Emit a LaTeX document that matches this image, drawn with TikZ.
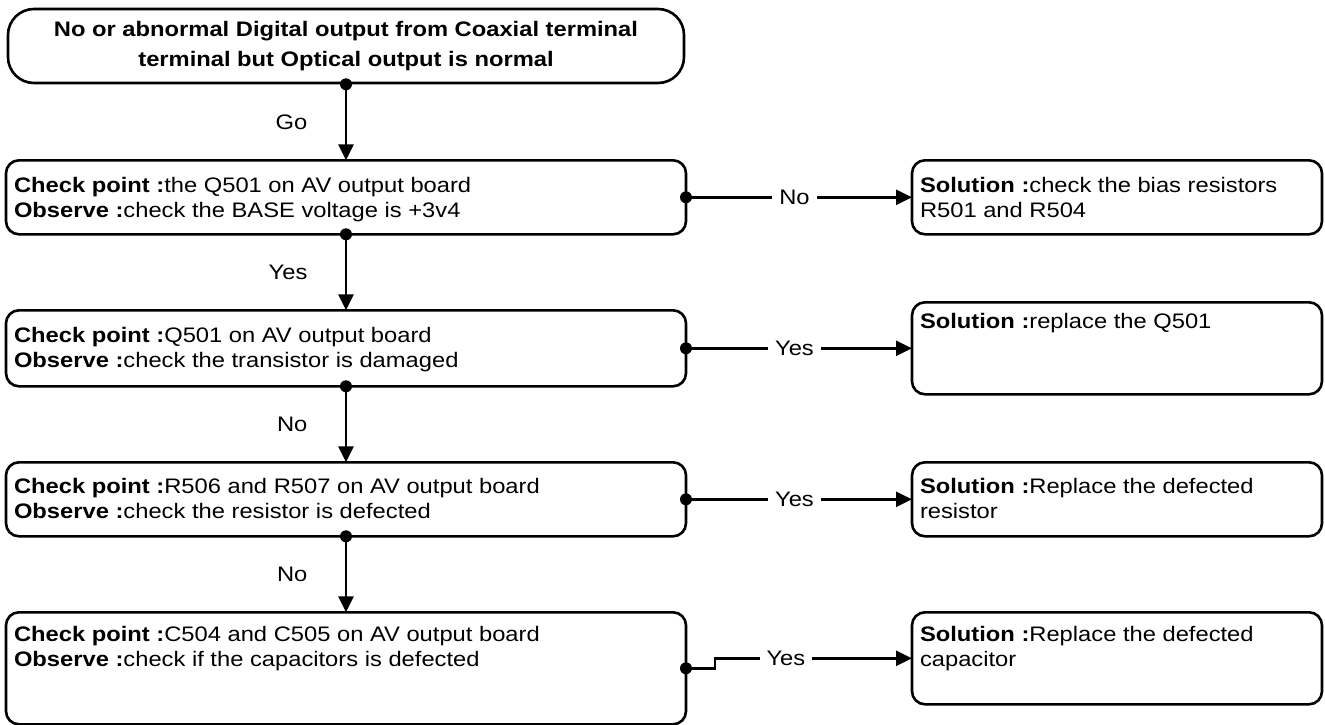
\documentclass[tikz,border=0pt]{standalone}
\usepackage{fontspec}
\setmainfont{Liberation Sans}[FakeStretch=1.13]
\usetikzlibrary{arrows.meta,positioning}

\newcommand{\flowfont}{\fontsize{21pt}{25.5pt}\selectfont}
% #1 = height of first line, #2 = box text height, #3 = text
\newcommand{\chktext}[3][24pt]{\parbox[c][#2][t]{664pt}{\raggedright\rule{0pt}{#1}#3}}
\newcommand{\soltext}[3][24pt]{\parbox[c][#2][t]{394pt}{\raggedright\rule{0pt}{#1}#3}}

\begin{document}
\begin{tikzpicture}[
  x=1pt, y=-1pt,
  node distance=76pt,
  every node/.style={font=\flowfont},
  start/.style={rectangle, rounded corners=26pt, draw, line width=2.6pt,
                minimum width=676pt, minimum height=74pt, align=center,
                font=\flowfont\bfseries},
  box/.style={rectangle, rounded corners=13pt, draw, line width=2.6pt,
              inner xsep=8pt, inner ysep=8pt, outer sep=0pt},
  arr/.style={-{Triangle[length=16pt,width=15pt]}, line width=2.6pt},
  lbl/.style={fill=white, inner xsep=7pt, inner ysep=2pt}
]
\useasboundingbox (0,0) rectangle (1325,725);

\node[start] (start) at (346,46)
  {No or abnormal Digital output from Coaxial terminal\\[4pt]terminal but Optical output is normal};

% check points
\node[box, below=of start] (c1)
  {\chktext{58pt}{\textbf{Check point :}the Q501 on AV output board\\
   \textbf{Observe :}check the BASE voltage is +3v4}};
\node[box, below=of c1] (c2)
  {\chktext{60pt}{\textbf{Check point :}Q501 on AV output board\\
   \textbf{Observe :}check the transistor is damaged}};
\node[box, below=of c2] (c3)
  {\chktext[23pt]{58pt}{\textbf{Check point :}R506 and R507 on AV output board\\
   \textbf{Observe :}check the resistor is defected}};
\node[box, below=of c3] (c4)
  {\chktext[21pt]{96pt}{\textbf{Check point :}C504 and C505 on AV output board\\
   \textbf{Observe :}check if the capacitors is defected}};

% solutions
\node[box, right=226pt of c1] (s1)
  {\soltext{58pt}{\textbf{Solution :}check the bias resistors\\R501 and R504}};
\node[box, right=226pt of c2] (s2)
  {\soltext[18pt]{76pt}{\textbf{Solution :}replace the Q501}};
\node[box, right=226pt of c3] (s3)
  {\soltext[23pt]{58pt}{\textbf{Solution :}Replace the defected\\resistor}};
\node[box, right=226pt of c4, yshift=10pt] (s4)
  {\soltext[21pt]{76pt}{\textbf{Solution :}Replace the defected\\capacitor}};

% connectors
\draw[arr] (start.south) -- node[left=34pt] {Go} (c1.north);
\draw[arr] (c1.south) -- node[left=34pt] {Yes} (c2.north);
\draw[arr] (c2.south) -- node[left=34pt] {No} (c3.north);
\draw[arr] (c3.south) -- node[left=34pt] {No} (c4.north);
\draw[arr] (c1.east) -- node[lbl, pos=0.48] {No} (s1.west);
\draw[arr] (c2.east) -- node[lbl, pos=0.48] {Yes} (s2.west);
\draw[arr] (c3.east) -- node[lbl, pos=0.48] {Yes} (s3.west);
\draw[arr] (c4.east) -- ++(29,0) |- node[lbl, pos=0.68] {Yes} (s4.west);

\foreach \p in {start.south, c1.south, c2.south, c3.south,
                c1.east, c2.east, c3.east, c4.east}
  \fill (\p) circle (6pt);
\end{tikzpicture}
\end{document}
